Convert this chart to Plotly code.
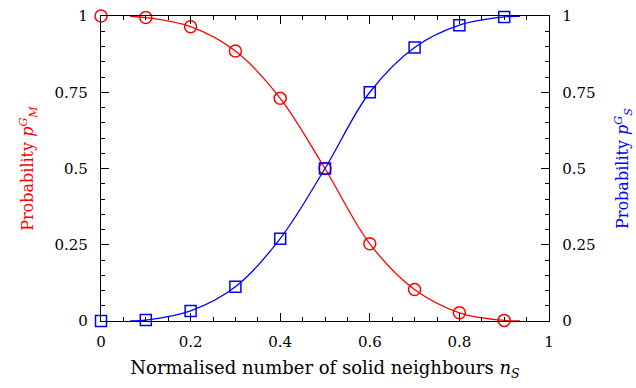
import plotly.graph_objects as go

x_pts = [0, 0.1, 0.2, 0.3, 0.4, 0.5, 0.6, 0.7, 0.8, 0.9]
p_m = [1.0, 0.995, 0.965, 0.885, 0.73, 0.5, 0.253, 0.103, 0.027, 0.002]
p_s = [0.0, 0.003, 0.033, 0.112, 0.27, 0.5, 0.75, 0.897, 0.97, 0.997]

x_fit = [0.065, 0.1, 0.2, 0.3, 0.4, 0.5, 0.6, 0.7, 0.8, 0.9, 0.935]
fit_m = [0.999, 0.995, 0.965, 0.885, 0.73, 0.5, 0.253, 0.103, 0.027, 0.002, 0.0005]
fit_s = [0.0005, 0.003, 0.033, 0.112, 0.27, 0.5, 0.75, 0.897, 0.97, 0.997, 0.999]

tick_vals = [0, 0.25, 0.5, 0.75, 1]
tick_text = ["0", "0.25", "0.5", "0.75", "1"]
x_tick_vals = [0, 0.2, 0.4, 0.6, 0.8, 1]
x_tick_text = ["0", "0.2", "0.4", "0.6", "0.8", "1"]

RED = "#ff0000"
BLUE = "#0000ff"
FONT = "DejaVu Serif"

fig = go.Figure()
fig.add_trace(go.Scatter(x=x_fit, y=fit_m, mode="lines", line=dict(color=RED, width=1.3, shape="spline"),
                         showlegend=False, hoverinfo="skip"))
fig.add_trace(go.Scatter(x=x_fit, y=fit_s, mode="lines", line=dict(color=BLUE, width=1.3, shape="spline"),
                         showlegend=False, hoverinfo="skip", yaxis="y2"))
fig.add_trace(go.Scatter(x=x_pts, y=p_m, mode="markers", cliponaxis=False,
                         marker=dict(symbol="circle-open", size=12, color=RED, line=dict(width=1.5, color=RED)),
                         showlegend=False))
fig.add_trace(go.Scatter(x=x_pts, y=p_s, mode="markers", cliponaxis=False, yaxis="y2",
                         marker=dict(symbol="square-open", size=11, color=BLUE, line=dict(width=1.5, color=BLUE)),
                         showlegend=False))

axis_common = dict(showgrid=False, zeroline=False, showline=True, linecolor="black", linewidth=1.3,
                   ticks="inside", ticklen=8, tickwidth=1.3, tickcolor="black", automargin=False,
                   tickfont=dict(family=FONT, size=15, color="black"))

fig.update_layout(
    width=636, height=388,
    margin=dict(l=101, r=87, t=16, b=67, autoexpand=False),
    paper_bgcolor="white", plot_bgcolor="white",
    font=dict(family=FONT, size=15, color="black"),
    xaxis=dict(range=[0, 1], tickvals=x_tick_vals, ticktext=x_tick_text, mirror="ticks",
               ticklabelstandoff=7,
               minor=dict(dtick=0.05, ticks="inside", ticklen=4, tickwidth=1.3, tickcolor="black"),
               title=dict(text="Normalised number of solid neighbours <i>n</i><sub><i>S</i></sub>",
                          font=dict(family=FONT, size=18, color="black"), standoff=11),
               **axis_common),
    yaxis=dict(range=[0, 1], tickvals=tick_vals, ticktext=tick_text,
               ticklabelstandoff=9,
               minor=dict(dtick=0.05, ticks="inside", ticklen=4, tickwidth=1.3, tickcolor="black"),
               title=dict(text="Probability <i>p</i><sup><i>G</i></sup><sub><i>M</i></sub>",
                          font=dict(family=FONT, size=16, color=RED), standoff=16),
               **axis_common),
    yaxis2=dict(range=[0, 1], tickvals=tick_vals, ticktext=tick_text, overlaying="y", side="right",
                ticklabelstandoff=9,
                minor=dict(dtick=0.05, ticks="inside", ticklen=4, tickwidth=1.3, tickcolor="black"),
                title=dict(text="Probability <i>p</i><sup><i>G</i></sup><sub><i>S</i></sub>",
                           font=dict(family=FONT, size=16, color=BLUE), standoff=22),
                **axis_common),
)

fig.write_html("out.html")
